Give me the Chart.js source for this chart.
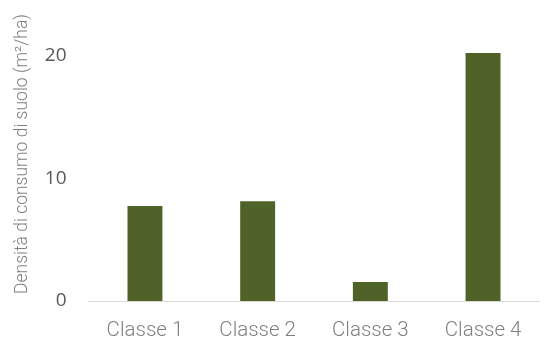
<!DOCTYPE html>
<html>
<head>
<meta charset="utf-8">
<script src="https://cdn.jsdelivr.net/npm/chart.js@4/dist/chart.umd.min.js"></script>
<style>
html,body{margin:0;padding:0;background:#fff;}
#wrap{width:544px;height:344px;}
</style>
</head>
<body>
<div id="wrap"><canvas id="c" width="544" height="344"></canvas></div>
<script>
const categories = ["Classe 1", "Classe 2", "Classe 3", "Classe 4"];
const densita = [7.76, 8.14, 1.55, 20.24];
const yTicks = [0, 10, 20];
const yTitle = "Densità di consumo di suolo (m²/ha)";

new Chart(document.getElementById('c'), {
  type: 'bar',
  data: {
    labels: categories,
    datasets: [{
      data: densita,
      backgroundColor: '#4f6228',
      borderWidth: 0,
      barPercentage: 0.31,
      categoryPercentage: 1.0
    }]
  },
  options: {
    responsive: false,
    animation: false,
    devicePixelRatio: 1,
    layout: { padding: { left: 12, right: 4.6, top: 0, bottom: 0 } },
    plugins: { legend: { display: false }, tooltip: { enabled: false } },
    scales: {
      x: {
        grid: { display: false, drawTicks: false },
        border: { display: true, color: '#d9d9d9', width: 1 },
        afterFit: (axis) => { axis.height = 43; axis.paddingLeft = 0; axis.paddingRight = 0; },
        ticks: {
          color: '#7f7f7f',
          font: { family: 'Roboto', size: 20.5, weight: '300' },
          padding: 18
        }
      },
      y: {
        min: 0,
        max: 24,
        grid: { display: false, drawTicks: false },
        border: { display: false },
        afterBuildTicks: (axis) => { axis.ticks = yTicks.map(v => ({ value: v })); },
        afterFit: (axis) => { axis.width = 76.6; axis.paddingTop = 7; axis.paddingBottom = 0; },
        ticks: {
          color: '#595959',
          font: { family: 'Open Sans', size: 19 },
          padding: 22
        },
        title: {
          display: true,
          text: yTitle,
          color: '#808080',
          font: { family: 'Roboto', size: 17.5, weight: '300' },
          padding: { top: 0, bottom: 9 }
        }
      }
    }
  }
});
</script>
</body>
</html>
